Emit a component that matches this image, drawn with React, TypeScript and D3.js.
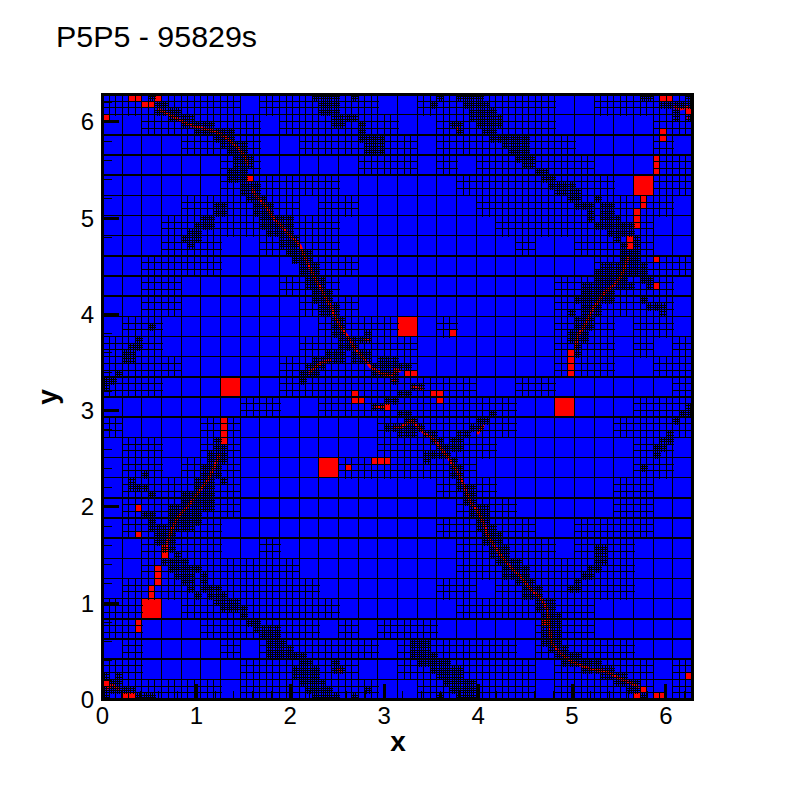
import React from "react";
import * as d3 from "d3";

const TWO_PI = 2 * Math.PI;
const titleText = "P5P5 - 95829s";
const tickValues = [0, 1, 2, 3, 4, 5, 6];
const minorTickValues = d3.range(0, 6.3, 0.2);

// 30 x 30 base cells, top row first: '#' = refined to 3 x 3
const baseRefined = [
  "#######.######..#######..#####",
  "..######.######..######.....##",
  "....####..######.#######....#.",
  "......##.....###.#.######...##",
  "......######......########..##",
  "....######.##......##########.",
  "...#########........########..",
  "...###..####.........#..####..",
  "..####....###............#####",
  "..##.....###...........######.",
  "..##......###..........######.",
  ".##........####..#.....###.##.",
  "###.......######.......###.#.#",
  "####.....#######.......###..##",
  "###......##########..##......#",
  ".......##..##########......###",
  "#....##.......#######.....####",
  ".##..##.......######.......##.",
  ".##.###.....#######........##.",
  ".######..........###......##..",
  ".######...........###.....##..",
  ".#####...........#####..####..",
  "..####..#.........#####.###...",
  "..########........#########...",
  ".##########......##.#######...",
  "##..########......#######.....",
  "##...######.#.###.....###.....",
  ".#....#.######.######.#####...",
  "##.....######..#######.#####.#",
  "######.#######..######.#####.#",
];

// refined patches, in units of a third of a base cell: [col0, row0, col1, row1]
const densePatches = [
  [7,0,8,1],[8,1,10,3],[10,2,12,4],[12,3,14,5],[14,4,17,6],[17,5,20,7],[18,7,22,8],[19,8,22,9],[20,9,23,11],[19,11,22,13],
  [21,13,24,15],[22,15,25,16],[23,16,26,18],[24,18,29,20],[25,20,29,21],[27,21,30,23],[28,23,32,24],[29,24,32,25],[30,25,33,27],
  [31,27,34,29],[32,29,35,31],[33,31,36,33],[35,33,37,36],[36,36,39,38],[38,38,41,40],[40,35,41,37],[37,36,41,37],[41,40,45,42],
  [42,39,45,40],[44,42,45,43],[32,0,36,1],[33,1,36,3],[35,3,39,4],[35,4,37,5],[38,0,39,1],[39,4,40,6],[39,6,43,7],[40,7,43,9],
  [17,16,19,18],[15,18,17,20],[14,19,15,20],[13,20,15,22],[12,21,13,22],[13,22,14,23],[7,34,8,35],[5,36,6,37],[4,37,6,38],
  [3,38,5,40],[2,41,3,42],[0,42,2,43],[0,43,1,44],[34,38,37,40],[32,39,36,40],[31,40,34,41],[30,41,33,42],[30,42,31,43],
  [51,0,52,1],[50,1,51,2],[54,0,58,1],[55,1,59,2],[56,2,60,3],[56,3,61,4],[53,4,55,5],[54,5,55,6],[57,4,61,5],[58,5,60,6],
  [59,6,65,7],[61,7,65,8],[62,8,65,9],[63,9,66,10],[64,10,66,11],[66,11,68,12],[67,12,69,13],[68,13,72,14],[69,14,73,15],
  [71,15,73,16],[72,16,75,17],[74,17,75,19],[75,15,76,16],[76,16,78,18],[76,18,79,19],[75,19,81,20],[77,20,81,21],[78,21,79,22],
  [79,22,80,25],[81,21,82,25],[80,23,82,25],[76,25,83,26],[75,26,83,27],[75,27,80,28],[82,27,84,28],[73,28,81,29],[83,28,84,29],
  [73,29,78,30],[72,30,78,31],[82,30,83,31],[73,31,76,33],[83,31,86,32],[85,32,86,33],[71,32,72,33],[72,33,75,35],[71,35,74,37],
  [72,37,73,39],[82,0,84,1],[85,1,87,2],[87,1,90,2],[89,0,90,1],[87,2,88,4],[89,3,90,4],[44,39,45,42],[45,40,47,41],[44,42,45,43],
  [47,43,49,44],[45,44,47,45],
  [17,51,18,52],[17,52,19,55],[16,53,19,55],[15,55,18,57],[14,57,17,59],[12,59,17,62],[10,61,15,63],[10,63,15,64],[7,64,14,65],
  [8,65,11,67],[9,67,11,68],[9,69,13,70],[10,70,15,71],[11,71,14,72],[12,72,14,73],[13,73,14,74],[14,74,15,75],[11,68,12,69],
  [15,71,16,73],[15,73,18,74],[16,74,19,75],[17,75,21,76],[18,76,22,77],[21,77,22,78],[22,78,24,79],[23,79,24,80],[24,79,27,81],
  [25,81,28,84],[28,82,29,84],[29,83,31,84],[30,84,32,85],[29,85,33,87],[30,87,34,88],[31,88,35,89],[32,89,36,90],
  [4,57,5,58],[4,58,7,59],[7,59,8,60],[6,56,7,57],[6,62,7,63],[7,62,8,64],[35,84,36,86],[35,85,37,86],[40,88,41,89],[38,89,39,90],
  [18,57,19,58],[0,86,1,87],[2,86,3,88],[1,87,3,89],[0,88,1,90],[3,88,5,89],[5,89,8,90],[43,49,45,50],[41,46,43,47],[43,45,45,46],
  [44,45,45,46],[45,47,47,48],[46,48,48,49],[45,49,49,50],[45,50,48,51],[49,50,51,51],[50,51,52,52],[51,52,53,53],[49,53,53,54],
  [49,54,50,55],[53,54,54,55],[53,55,55,57],[54,57,55,59],[54,58,57,59],[55,59,57,61],[56,61,59,63],[57,63,59,65],[57,64,60,65],
  [58,65,61,67],[59,67,62,69],[60,69,64,70],[61,70,65,72],[63,72,66,73],[64,73,67,75],[66,75,69,77],[67,77,70,79],[67,79,70,82],
  [68,82,71,83],[69,83,73,84],[70,84,76,85],[73,85,78,86],[76,86,80,87],[78,87,82,88],[80,88,82,89],[54,50,56,51],[53,51,55,53],
  [56,49,58,50],[57,48,59,49],[59,47,60,48],[89,46,90,47],[88,47,90,48],[87,48,88,49],[86,50,87,52],[85,51,86,53],[84,52,85,54],
  [82,55,83,56],[75,67,77,70],[74,70,76,71],[73,71,75,72],[72,72,73,74],[71,73,73,74],[47,81,50,84],[48,83,51,85],[50,84,53,86],
  [51,85,55,87],[52,87,57,88],[53,88,57,89],[54,89,57,90],[51,89,52,90],[82,89,83,90],
];

// red cells, one base cell wide: [col, row]
const redLarge = [[6,14],[15,11],[11,18],[2,25],[23,15],[27,4]];
// red cells, a third of a base cell wide: [col, row]
const redMedium = [
  [4,0],[5,0],[8,0],[6,1],[7,1],[0,3],[22,12],[38,44],[85,0],[86,0],[89,2],[85,5],[85,6],[84,9],[84,10],[84,11],[82,15],[82,16],
  [81,17],[81,18],[81,19],[80,21],[80,22],[84,24],[84,28],[53,35],[71,38],[71,39],[71,40],[71,41],[46,41],[47,41],[50,44],[51,44],
  [18,48],[18,49],[18,50],[18,51],[41,54],[42,54],[43,54],[37,55],[5,61],[5,65],[9,67],[9,68],[8,70],[8,71],[8,72],[7,73],[7,74],
  [5,78],[5,79],[0,87],[3,89],[4,89],[38,45],[39,45],[43,46],[51,45],[67,78],[82,88],[81,89],[84,89],[85,89],[89,86],
];

// thin red fronts, in units of a ninth of a base cell: [col, row]
const redFronts = [
  [[25,6],[27,7],[31,9],[35,11],[39,13],[43,14],[47,15],[51,16],[55,18],[59,21],[61,23],[64,26],[65,28],[66,31]],
  [[68,41],[69,44],[71,46],[74,49],[76,52],[78,55],[81,58],[84,61],[87,64],[90,67],[92,72],[94,76],[97,82],[100,87],[102,91],[104,94],[106,99],[109,104],[112,108],[115,113],[119,117],[122,121],[127,124],[132,125],[135,122]],
  [[94,124],[97,121],[100,119],[104,118]],
  [[119,109],[122,109]],
  [[216,113],[217,107],[220,103],[222,99],[224,95],[227,91],[230,87],[233,85],[236,82],[238,78],[240,72]],
  [[261,5],[264,6],[268,5]],
  [[267,10],[268,10]],
  [[162,14],[162,16]],
  [[133,122],[136,123]],
  [[141,130],[146,131]],
  [[132,127],[134,127]],
  [[29,200],[31,194],[34,188],[38,184],[42,179],[45,175],[48,171],[51,165],[53,160]],
  [[1,265],[4,263],[7,265]],
  [[107,256],[109,257]],
  [[124,139],[129,139]],
  [[133,148],[136,148],[141,145],[144,148],[147,151],[151,153],[154,157],[158,162],[162,168],[165,174],[168,182],[171,185],[174,191],[176,197],[181,204],[184,208],[187,211],[192,216],[196,221],[199,223],[203,229],[204,237],[205,244],[209,249],[215,253],[223,256],[230,257],[236,260],[241,262],[245,264]],
  [[171,151],[174,147]],
];

const x = d3.scaleLinear().domain([0, TWO_PI]).range([102.5, 692.5]);
const y = d3.scaleLinear().domain([0, TWO_PI]).range([699.5, 94.5]);
const gx = (c: number, per: number) => x((c / per / 30) * TWO_PI);
const gy = (r: number, per: number) => y(TWO_PI - (r / per / 30) * TWO_PI);

// aliased lines as filled pixel rectangles, all with the same winding
function vline(px: number, p0: number, p1: number, w: number) {
  const a = Math.round(px - w / 2);
  const b = Math.max(a + 1, Math.round(px + w / 2));
  return `M${a},${Math.round(p0)}H${b}V${Math.round(p1) + 1}H${a}Z`;
}
function hline(py: number, p0: number, p1: number, w: number) {
  const a = Math.round(py - w / 2);
  const b = Math.max(a + 1, Math.round(py + w / 2));
  return `M${Math.round(p0)},${a}H${Math.round(p1) + 1}V${b}H${Math.round(p0)}Z`;
}
function outline(c0: number, r0: number, c1: number, r1: number, per: number, w: number) {
  return (
    vline(gx(c0, per), gy(r0, per), gy(r1, per), w) +
    vline(gx(c1, per), gy(r0, per), gy(r1, per), w) +
    hline(gy(r0, per), gx(c0, per), gx(c1, per), w) +
    hline(gy(r1, per), gx(c0, per), gx(c1, per), w)
  );
}
function box(c0: number, r0: number, c1: number, r1: number, per: number) {
  return `M${gx(c0, per)},${gy(r0, per)}H${gx(c1, per)}V${gy(r1, per)}H${gx(c0, per)}Z`;
}

function buildMesh() {
  let d = "";
  for (const i of d3.range(1, 30)) {
    d += vline(gx(i, 1), gy(0, 1), gy(30, 1), 1.1);
    d += hline(gy(i, 1), gx(0, 1), gx(30, 1), 1.5);
  }
  baseRefined.forEach((row, r) => {
    row.split("").forEach((ch, c) => {
      if (ch !== "#") return;
      for (const k of [1, 2]) {
        d += vline(gx(c * 3 + k, 3), gy(r * 3, 3), gy(r * 3 + 3, 3), 1);
        d += hline(gy(r * 3 + k, 3), gx(c * 3, 3), gx(c * 3 + 3, 3), 1);
      }
    });
  });
  for (const [c0, r0, c1, r1] of densePatches) {
    for (const c of d3.range(c0 * 3, c1 * 3 + 1)) d += vline(gx(c, 9), gy(r0, 3), gy(r1, 3), 1);
    for (const r of d3.range(r0 * 3, r1 * 3 + 1)) d += hline(gy(r, 9), gx(c0, 3), gx(c1, 3), 1);
  }
  for (const [c, r] of redMedium) d += outline(c, r, c + 1, r + 1, 3, 1);
  return d;
}

const frontLine = d3
  .line<number[]>()
  .x((d) => gx(d[0] + 0.5, 9))
  .y((d) => gy(d[1] + 0.5, 9));

export default function App() {
  const mesh = buildMesh();
  const font = "'Liberation Sans', Arial, sans-serif";
  return (
    <svg width={787} height={787} style={{ position: "fixed", left: 0, top: 0, background: "#fff" }} fontFamily={font}>
      <rect x={x(0)} y={y(TWO_PI)} width={x(TWO_PI) - x(0)} height={y(0) - y(TWO_PI)} fill="#0000ff" />
      {redLarge.map(([c, r], i) => (
        <path key={i} d={box(c, r, c + 1, r + 1, 1)} fill="#ff0000" />
      ))}
      {redMedium.map(([c, r], i) => (
        <path key={i} d={box(c, r, c + 1, r + 1, 3)} fill="#ff0000" />
      ))}
      {redFronts.map((f, i) => (
        <path key={i} d={frontLine(f) || ""} fill="none" stroke="#ff0000" strokeWidth={2.8} />
      ))}
      <path d={mesh} fill="#000" fillRule="nonzero" shapeRendering="crispEdges" />
      <g stroke="#000" shapeRendering="crispEdges">
        {minorTickValues.map((t) => (
          <g key={t}>
            <line x1={x(t)} x2={x(t)} y1={y(0)} y2={y(0) - 9} strokeWidth={1} />
            <line x1={x(0)} x2={x(0) + 9} y1={y(t)} y2={y(t)} strokeWidth={1} />
          </g>
        ))}
        {tickValues.map((t) => (
          <g key={t}>
            <line x1={x(t)} x2={x(t)} y1={y(0)} y2={y(0) - 16} strokeWidth={3} />
            <line x1={x(0)} x2={x(0) + 16} y1={y(t)} y2={y(t)} strokeWidth={3} />
          </g>
        ))}
        <rect x={x(0)} y={y(TWO_PI)} width={x(TWO_PI) - x(0)} height={y(0) - y(TWO_PI)} fill="none" strokeWidth={3} />
      </g>
      <g fontSize={24} fill="#000">
        {tickValues.map((t) => (
          <text key={t} x={x(t)} y={724} textAnchor="middle">{t}</text>
        ))}
        {tickValues.map((t) => (
          <text key={t} x={94} y={y(t) + 8.5} textAnchor="end">{t}</text>
        ))}
      </g>
      <text x={398} y={751} textAnchor="middle" fontSize={28} fontWeight="bold">x</text>
      <text transform="translate(56.5,397) rotate(-90)" textAnchor="middle" fontSize={28} fontWeight="bold">y</text>
      <text x={56} y={47} fontSize={30.4}>{titleText}</text>
    </svg>
  );
}
